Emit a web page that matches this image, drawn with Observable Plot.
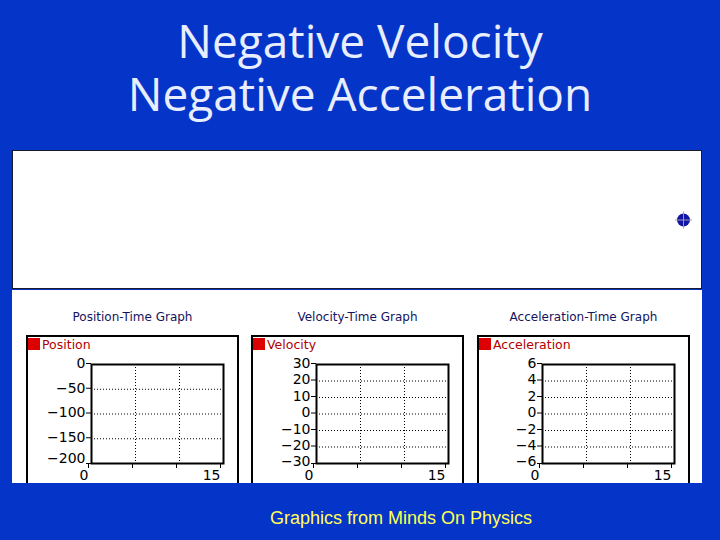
<!DOCTYPE html>
<html>
<head>
<meta charset="utf-8">
<script src="https://cdn.jsdelivr.net/npm/d3@7"></script>
<script src="https://cdn.jsdelivr.net/npm/@observablehq/plot@0.6"></script>
<style>
  html, body { margin: 0; padding: 0; }
  body { width: 720px; height: 540px; background: #0535c8; position: relative; overflow: hidden; font-family: "DejaVu Sans", sans-serif; }
  #title { position: absolute; left: 0; top: 14px; width: 720px; text-align: center; color: #e8eeff;
           font-family: "Open Sans", sans-serif; font-size: 46px; line-height: 53px; }
  #stage { position: absolute; left: 12px; top: 150px; width: 688px; height: 137px; background: #fff; border: 1px solid #1a1a2a; }
  #panel { position: absolute; left: 12px; top: 290px; width: 690px; height: 193px; background: #fff; overflow: hidden; }
  .gtitle { position: absolute; top: 20px; width: 213px; text-align: center; color: #14145e; font-size: 12px; font-family: "DejaVu Sans", sans-serif; }
  .gbox { position: absolute; top: 45px; width: 209px; height: 170px; border: 2px solid #000; background: #fff; }
  .gbox svg { position: absolute; left: 0; top: 0; }
  .legend { position: absolute; left: 0; top: 1px; height: 13px; line-height: 13px; font-size: 12.5px; color: #b00000; white-space: nowrap; z-index: 2; }
  .legend span.sw { display: inline-block; width: 12px; height: 12px; background: #dd0000; vertical-align: top; margin-right: 2px; }
  #caption { position: absolute; left: 200px; width: 402px; top: 508px; text-align: center; color: #ffff55;
             font-family: "Liberation Sans", Arial, sans-serif; font-size: 18px; }
</style>
</head>
<body>
<div id="title">Negative Velocity<br>Negative Acceleration</div>
<div id="stage"></div>
<div id="panel"></div>
<div id="caption">Graphics from Minds On Physics</div>
<script>
// ---- data ----
const graphTitles = ["Position-Time Graph", "Velocity-Time Graph", "Acceleration-Time Graph"];
const seriesNames = ["Position", "Velocity", "Acceleration"];
const timeDomain = [0, 15];
const timeTicks = [0, 5, 10, 15];
const timeLabels = [0, 15];
const positionDomain = [-200, 0];
const positionTicks = [0, -50, -100, -150, -200];
const velocityDomain = [-30, 30];
const velocityTicks = [30, 20, 10, 0, -10, -20, -30];
const accelerationDomain = [-6, 6];
const accelerationTicks = [6, 4, 2, 0, -2, -4, -6];
const carPosition = [0];   // object's current position (start of motion)

const domains = [positionDomain, velocityDomain, accelerationDomain];
const tickSets = [positionTicks, velocityTicks, accelerationTicks];
const boxLefts = [14, 239, 465];

// ---- animation stage with the moving object ----
const stage = Plot.plot({
  width: 688, height: 137,
  marginLeft: 18, marginRight: 18, marginTop: 0, marginBottom: 0,
  x: {domain: positionDomain, axis: null},
  style: {background: "transparent"},
  marks: [
    Plot.dot(carPosition, {x: d => d, r: 6.5, fill: "#1414a6", stroke: "none"}),
    Plot.dot(carPosition, {x: d => d, r: 5.5, symbol: "plus", stroke: "#9a9ab4", strokeWidth: 1})
  ]
});
document.getElementById("stage").appendChild(stage);

// ---- three graphs ----
const panel = document.getElementById("panel");
graphTitles.forEach((t, i) => {
  const title = document.createElement("div");
  title.className = "gtitle";
  title.style.left = (boxLefts[i]) + "px";
  title.textContent = t;
  panel.appendChild(title);

  const box = document.createElement("div");
  box.className = "gbox";
  box.style.left = boxLefts[i] + "px";
  const leg = document.createElement("div");
  leg.className = "legend";
  leg.innerHTML = '<span class="sw"></span>' + seriesNames[i];
  box.appendChild(leg);

  const ticks = tickSets[i];
  const lo = domains[i][0], hi = domains[i][1];
  const inner = ticks.filter(v => v !== lo && v !== hi);
  const lowLift = ticks.length > 5 ? -2 : -5;
  const chart = Plot.plot({
    width: 209, height: 150,
    marginLeft: 63, marginRight: 14, marginTop: 27, marginBottom: 24,
    x: {domain: timeDomain},
    y: {domain: domains[i]},
    style: {background: "transparent", fontFamily: "DejaVu Sans, sans-serif", fontSize: "14px", color: "#000", overflow: "visible"},
    marks: [
      Plot.gridX({ticks: timeTicks.filter(v => v !== timeDomain[0] && v !== timeDomain[1]), stroke: "#000", strokeOpacity: 1, strokeDasharray: "1,2"}),
      Plot.gridY({ticks: inner, stroke: "#000", strokeOpacity: 1, strokeDasharray: "1,2"}),
      Plot.axisY({ticks: ticks.filter(v => v !== lo), tickSize: 5, tickPadding: 1, label: null, dy: -1, fill: "#000", stroke: "#000"}),
      Plot.axisY({ticks: [lo], tickSize: 0, tickPadding: 6, label: null, dy: lowLift, fill: "#000"}),
      Plot.axisY({ticks: [lo], tickSize: 5, tickFormat: () => "", label: null, stroke: "#000"}),
      Plot.axisX({ticks: timeTicks, tickSize: 5, tickPadding: 2, label: null, textAnchor: "end", dx: -3,
                  tickFormat: d => timeLabels.includes(d) ? String(d) : "", fill: "#000", stroke: "#000"}),
      Plot.frame({stroke: "#000", strokeWidth: 2})
    ]
  });
  box.appendChild(chart);
  panel.appendChild(box);
});
</script>
</body>
</html>
